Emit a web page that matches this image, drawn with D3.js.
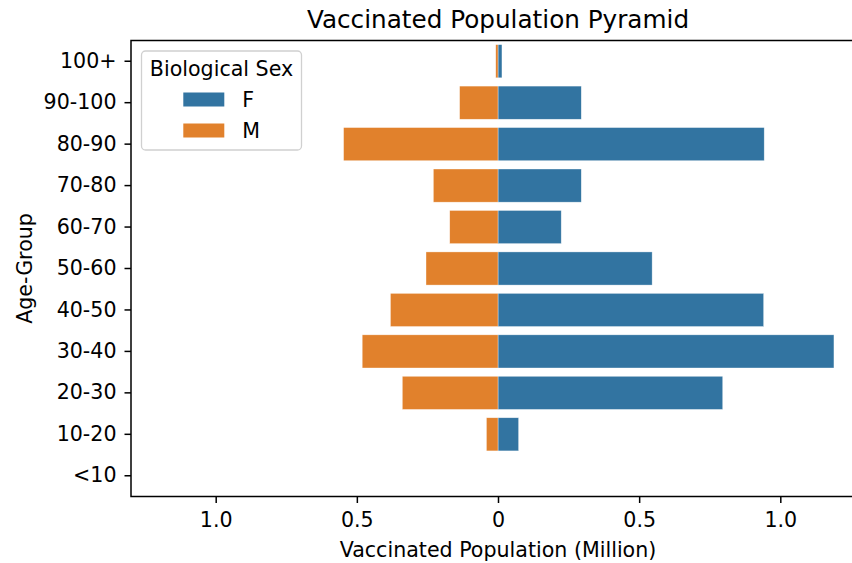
<!DOCTYPE html>
<html>
<head>
<meta charset="utf-8">
<script src="https://cdn.jsdelivr.net/npm/d3@7/dist/d3.min.js"></script>
<style>
  html, body { margin: 0; padding: 0; background: #fff; }
  svg { display: block; font-family: "DejaVu Sans", sans-serif; }
</style>
</head>
<body>
<svg id="chart" width="852" height="563"></svg>
<script>
const ageGroups = ["100+", "90-100", "80-90", "70-80", "60-70", "50-60", "40-50", "30-40", "20-30", "10-20", "<10"];
const femaleValues = [0.014, 0.295, 0.943, 0.295, 0.224, 0.546, 0.941, 1.190, 0.796, 0.073, 0.0];
const maleValues   = [0.008, 0.136, 0.547, 0.229, 0.171, 0.255, 0.381, 0.481, 0.339, 0.041, 0.0];
const xTickValues = [-1.0, -0.5, 0, 0.5, 1.0];
const xTickLabels = ["1.0", "0.5", "0", "0.5", "1.0"];
const seriesNames = ["F", "M"];
const seriesColors = ["#3274a1", "#e1812c"];

const svg = d3.select("#chart");
const margin = { left: 131, right: 865, top: 40.5, bottom: 496.5 };
const FS = "20.6px";

const x = d3.scaleLinear().domain([-1.3, 1.3]).range([margin.left, margin.right]);
const y = d3.scaleBand().domain(ageGroups).range([margin.top, margin.bottom]).paddingInner(0.2).paddingOuter(0.1);

const rows = ageGroups.map((g, i) => ({ group: g, F: femaleValues[i], M: maleValues[i] }));

const g = svg.append("g");
g.selectAll("rect.f").data(rows).join("rect")
  .attr("class", "f")
  .attr("x", d => x(0))
  .attr("y", d => y(d.group))
  .attr("width", d => x(d.F) - x(0))
  .attr("height", y.bandwidth())
  .attr("fill", seriesColors[0])
  .attr("stroke", "#ffffff").attr("stroke-width", 0.6).attr("stroke-opacity", 0.6);
g.selectAll("rect.m").data(rows).join("rect")
  .attr("class", "m")
  .attr("x", d => x(-d.M))
  .attr("y", d => y(d.group))
  .attr("width", d => x(0) - x(-d.M))
  .attr("height", y.bandwidth())
  .attr("fill", seriesColors[1])
  .attr("stroke", "#ffffff").attr("stroke-width", 0.6).attr("stroke-opacity", 0.6);

const xAxis = d3.axisBottom(x).tickValues(xTickValues).tickFormat((d, i) => xTickLabels[i]).tickSizeOuter(0).tickSize(6.5).tickPadding(9);
const yAxis = d3.axisLeft(y).tickSizeOuter(0).tickSize(6.5).tickPadding(8);

const gx = svg.append("g").attr("transform", `translate(0,${margin.bottom})`).call(xAxis);
const gy = svg.append("g").attr("transform", `translate(${margin.left},0)`).call(yAxis);
[gx, gy].forEach(a => {
  a.select(".domain").remove();
  a.selectAll(".tick line").attr("stroke", "#000").attr("stroke-width", 1.5);
  a.selectAll(".tick text").attr("fill", "#000").style("font-size", FS).style("font-family", "DejaVu Sans");
});

svg.append("rect")
  .attr("x", margin.left).attr("y", margin.top)
  .attr("width", margin.right - margin.left).attr("height", margin.bottom - margin.top)
  .attr("fill", "none").attr("stroke", "#000").attr("stroke-width", 1.5);

svg.append("text").attr("x", (margin.left + margin.right) / 2).attr("y", 28)
  .attr("text-anchor", "middle").style("font-size", "24.7px").text("Vaccinated Population Pyramid");
svg.append("text").attr("x", (margin.left + margin.right) / 2).attr("y", 557)
  .attr("text-anchor", "middle").style("font-size", FS).text("Vaccinated Population (Million)");
svg.append("text").attr("transform", `translate(32,${(margin.top + margin.bottom) / 2}) rotate(-90)`)
  .attr("text-anchor", "middle").style("font-size", FS).text("Age-Group");

const lg = svg.append("g");
lg.append("rect").attr("x", 141.5).attr("y", 51).attr("width", 160).attr("height", 99).attr("rx", 4)
  .attr("fill", "#fff").attr("fill-opacity", 0.8).attr("stroke", "#d0d0d0").attr("stroke-width", 1.3);
lg.append("text").attr("x", 221.5).attr("y", 75.5).attr("text-anchor", "middle").style("font-size", FS).text("Biological Sex");
seriesNames.forEach((name, i) => {
  lg.append("rect").attr("x", 183.3).attr("y", 92.5 + i * 31).attr("width", 41).attr("height", 14).attr("fill", seriesColors[i]);
  lg.append("text").attr("x", 242.3).attr("y", 106.7 + i * 31).style("font-size", FS).text(name);
});
</script>
</body>
</html>
